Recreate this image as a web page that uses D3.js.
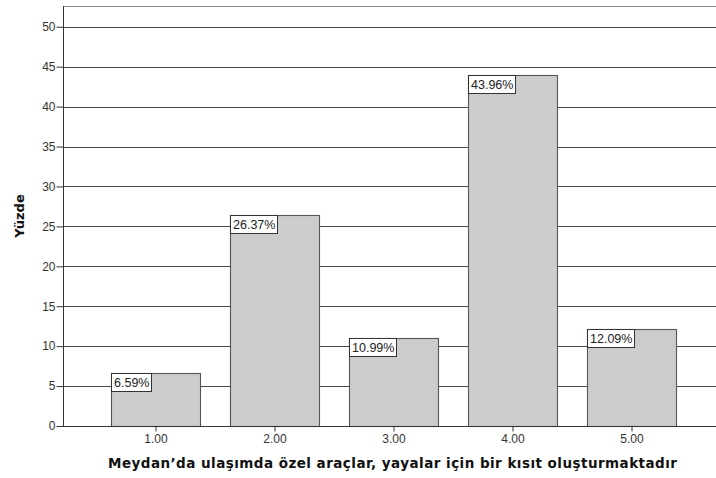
<!DOCTYPE html>
<html>
<head>
<meta charset="utf-8">
<script src="https://cdn.jsdelivr.net/npm/d3@7"></script>
<style>
  html, body { margin: 0; padding: 0; background: #fff; }
  svg { display: block; }
</style>
</head>
<body>
<svg id="chart" width="716" height="478"></svg>
<script>
// Response categories and their percentages
const categories = ["1.00", "2.00", "3.00", "4.00", "5.00"];
const percents = [6.59, 26.37, 10.99, 43.96, 12.09];
const yTicks = [0, 5, 10, 15, 20, 25, 30, 35, 40, 45, 50];
const xTitle = "Meydan’da ulaşımda özel araçlar, yayalar için bir kısıt oluşturmaktadır";
const yTitle = "Yüzde";

const svg = d3.select("#chart");
const plotLeft = 63, plotTop = 6, plotBottom = 426, plotRight = 725;
const tickFont = "Liberation Sans, Arial, sans-serif";

const x = d3.scaleBand()
  .domain(categories)
  .range([plotLeft, plotRight])
  .paddingInner(0.252)
  .paddingOuter(0.4075);

const y = d3.scaleLinear()
  .domain([0, 52.6])
  .range([plotBottom, plotTop]);

// plot frame top
svg.append("line")
  .attr("x1", plotLeft).attr("x2", 716)
  .attr("y1", plotTop + 0.5).attr("y2", plotTop + 0.5)
  .attr("stroke", "#8a8a8a").attr("stroke-width", 1.2);

// horizontal grid
svg.append("g")
  .selectAll("line")
  .data(yTicks.filter(d => d > 0))
  .join("line")
  .attr("x1", plotLeft).attr("x2", 716)
  .attr("y1", d => Math.round(y(d)) + 0.5)
  .attr("y2", d => Math.round(y(d)) + 0.5)
  .attr("stroke", "#4a4a4a").attr("stroke-width", 1.1);

// bars
const data = categories.map((c, i) => ({ c, v: percents[i] }));
svg.append("g")
  .selectAll("rect")
  .data(data)
  .join("rect")
  .attr("x", d => Math.round(x(d.c)) + 0.5)
  .attr("y", d => Math.round(y(d.v)) + 0.5)
  .attr("width", Math.round(x.bandwidth()))
  .attr("height", d => Math.round(y(0)) - Math.round(y(d.v)))
  .attr("fill", "#cccccc")
  .attr("stroke", "#555")
  .attr("stroke-width", 1.1);

// y axis
const yAxis = svg.append("g")
  .attr("transform", `translate(${plotLeft + 0.5},0)`)
  .call(d3.axisLeft(y).tickValues(yTicks).tickSize(7).tickPadding(1).tickFormat(d3.format("d")));
yAxis.select(".domain").attr("d", `M0,${plotTop}V${plotBottom}`).attr("stroke", "#333");
yAxis.selectAll(".tick line").attr("stroke", "#333");
yAxis.selectAll(".tick text")
  .attr("font-family", tickFont)
  .attr("font-size", 12).attr("fill", "#333");

// x axis
const xAxis = svg.append("g")
  .attr("transform", `translate(0,${plotBottom + 0.5})`)
  .call(d3.axisBottom(x).tickSize(5).tickPadding(3).tickSizeOuter(0));
xAxis.select(".domain").attr("d", `M${plotLeft},0H716`).attr("stroke", "#333");
xAxis.selectAll(".tick line").attr("stroke", "#333");
xAxis.selectAll(".tick text")
  .attr("font-family", tickFont)
  .attr("font-size", 12).attr("fill", "#333");

// value labels in boxes at each bar's top-left corner
const labels = svg.append("g").selectAll("g")
  .data(data)
  .join("g")
  .attr("transform", d => `translate(${Math.round(x(d.c)) + 0.5},${Math.round(y(d.v)) + 0.5})`);
labels.append("text")
  .attr("x", 2.5).attr("y", 13.5)
  .attr("font-family", tickFont)
  .attr("font-size", 12.5).attr("fill", "#222")
  .text(d => d.v.toFixed(2) + "%")
  .each(function () {
    const b = this.getBBox();
    d3.select(this.parentNode).insert("rect", "text")
      .attr("x", 0).attr("y", 0)
      .attr("width", Math.round(b.width) + 5).attr("height", 18)
      .attr("fill", "#fff").attr("stroke", "#333").attr("stroke-width", 1);
  });

// axis titles
svg.append("text")
  .attr("x", 108).attr("y", 468)
  .attr("textLength", 569).attr("lengthAdjust", "spacing")
  .attr("font-family", "DejaVu Sans, Verdana, sans-serif")
  .attr("font-weight", "bold").attr("font-size", 13.5).attr("fill", "#111")
  .text(xTitle);

svg.append("text")
  .attr("transform", "translate(24,216) rotate(-90)")
  .attr("text-anchor", "middle")
  .attr("font-family", "DejaVu Sans, Verdana, sans-serif")
  .attr("font-weight", "bold").attr("font-size", 13).attr("fill", "#111")
  .text(yTitle);
</script>
</body>
</html>
